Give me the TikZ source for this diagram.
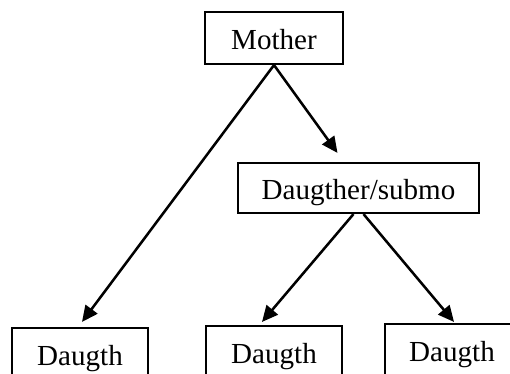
\documentclass[tikz,border=0pt]{standalone}
\usepackage{fontspec}
\setmainfont{Liberation Serif}
\usetikzlibrary{arrows.meta,calc}
\begin{document}
\begin{tikzpicture}[
        x=0.75pt, y=-0.75pt,
        box/.style={rectangle, draw, line width=1.6pt, inner sep=0pt,
            minimum width=102pt, minimum height=39pt,
            font=\fontsize{21.8pt}{26pt}\selectfont,
            text height=19.5pt, text depth=2.5pt},
        arrow/.style={-{Triangle[length=12pt,width=11pt]}, line width=1.9pt}
    ]
    \useasboundingbox (0,0) rectangle (510,374);
    % Top level
    \node[box, minimum width=103.5pt] (mother) at (274,38) {Mother};
    \node[box, minimum width=180.75pt, minimum height=37.5pt] (submo) at (358.5,188) {Daugther/submo};

    % Bottom row
    \node[box] (d1) at (80,354) {Daugth};
    \node[box] (d2) at (274,352) {Daugth};
    \node[box, minimum width=101pt] (d3) at (452,350) {Daugth};

    \draw[arrow] (mother.south) -- ($(d1.north)+(2,-5)$);
    \draw[arrow] (mother.south) -- ($(submo.north)+(-21,-9)$);
    \draw[arrow] ($(submo.south)+(-5,0)$) -- ($(d2.north)+(-12,-3)$);
    \draw[arrow] ($(submo.south)+(5,0)$) -- ($(d3.north)+(2,-1)$);
\end{tikzpicture}
\end{document}
